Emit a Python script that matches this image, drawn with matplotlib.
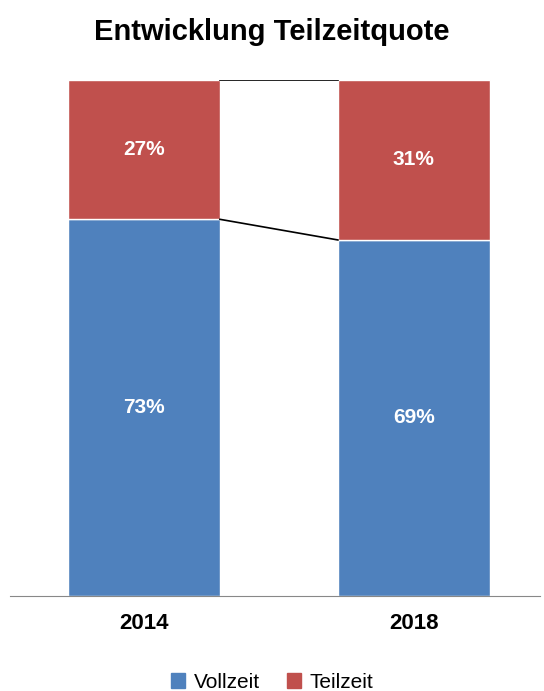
import matplotlib
matplotlib.use("Agg")
import matplotlib.pyplot as plt
from matplotlib.patches import Patch

plt.rcParams["font.family"] = ["Liberation Sans", "DejaVu Sans"]

years = ["2014", "2018"]
vollzeit = [73, 69]
teilzeit = [27, 31]
blue = "#4F81BD"
red = "#C0504D"

fig = plt.figure(figsize=(5.44, 6.91), dpi=100)
ax = fig.add_axes([10 / 544, 95 / 691, 530 / 544, 516 / 691])
pos = [0, 1]
w = 0.563
ax.bar(pos, vollzeit, w, color=blue, edgecolor="white", linewidth=1)
ax.bar(pos, teilzeit, w, bottom=vollzeit, color=red, edgecolor="white", linewidth=1)

# series lines between bars
tops = [v + t for v, t in zip(vollzeit, teilzeit)]
ax.plot([pos[0] + w / 2, pos[1] - w / 2], [tops[0], tops[1]], color="black", lw=1.2)
ax.plot([pos[0] + w / 2, pos[1] - w / 2], [vollzeit[0], vollzeit[1]], color="black", lw=1.2)

for p, v, t in zip(pos, vollzeit, teilzeit):
    ax.text(p, v / 2, f"{v}%", ha="center", va="center", color="white",
            fontsize=15, fontweight="bold")
    ax.text(p, v + t / 2, f"{t}%", ha="center", va="center", color="white",
            fontsize=15, fontweight="bold")

ax.set_xlim(-0.496, 1.467)
ax.set_ylim(0, 100)
ax.set_xticks(pos)
ax.set_xticklabels(years, fontsize=16, fontweight="bold")
ax.tick_params(axis="x", length=0, pad=12)
ax.set_yticks([])
for s in ["top", "left", "right"]:
    ax.spines[s].set_visible(False)
ax.spines["bottom"].set_color("#888888")

fig.text(0.5, 1 - 32 / 691, "Entwicklung Teilzeitquote", ha="center", va="center",
         fontsize=21, fontweight="bold")
fig.legend(handles=[Patch(color=blue, label="Vollzeit"), Patch(color=red, label="Teilzeit")],
           loc="center", bbox_to_anchor=(0.5, 1 - 682 / 691), ncol=2, frameon=False,
           fontsize=15, handlelength=0.7, handleheight=0.7, handletextpad=0.4,
           columnspacing=1.3)
fig.savefig("out.png")
